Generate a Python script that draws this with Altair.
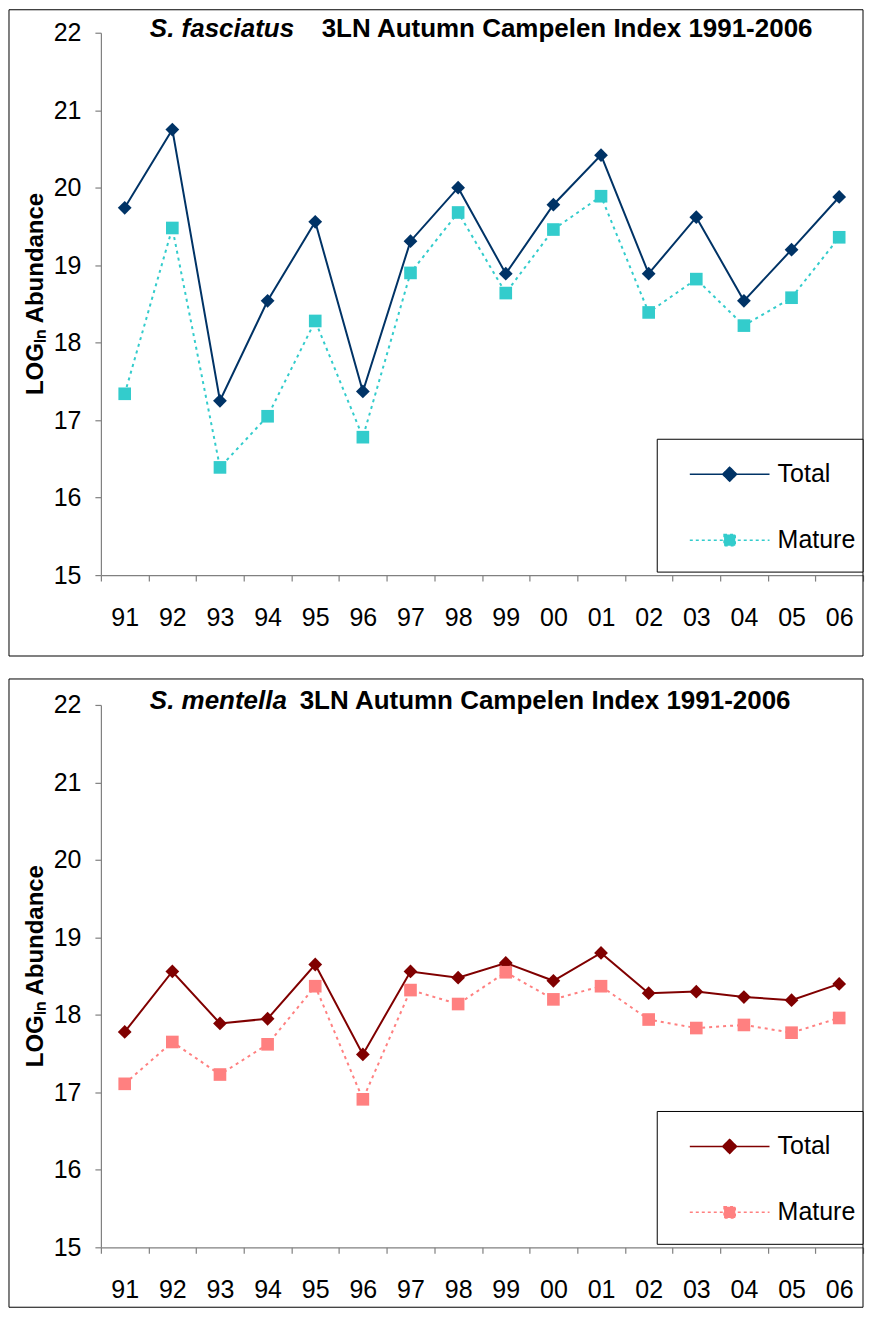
import altair as alt
import pandas as pd

# ---------------- data ----------------
years = ["91", "92", "93", "94", "95", "96", "97", "98",
         "99", "00", "01", "02", "03", "04", "05", "06"]
fas_total = [19.74, 20.75, 17.25, 18.54, 19.56, 17.37, 19.31, 20.00,
             18.89, 19.78, 20.42, 18.89, 19.62, 18.54, 19.20, 19.88]
fas_mature = [17.34, 19.48, 16.39, 17.05, 18.28, 16.78, 18.90, 19.68,
              18.64, 19.46, 19.89, 18.39, 18.82, 18.22, 18.58, 19.36]
men_total = [17.78, 18.56, 17.89, 17.95, 18.65, 17.49, 18.56, 18.48,
             18.67, 18.44, 18.80, 18.28, 18.30, 18.23, 18.19, 18.40]
men_mature = [17.11, 17.65, 17.23, 17.62, 18.37, 16.91, 18.32, 18.14,
              18.55, 18.20, 18.37, 17.94, 17.83, 17.87, 17.77, 17.96]
series_names = ["Total", "Mature"]
y_ticks = [15, 16, 17, 18, 19, 20, 21, 22]
y_title = "LOGₗₙ Abundance"

F = "Liberation Sans"
W, H = 763, 543

# legend symbols: line segment + marker
SYM_TOTAL = "M-5.7,0H5.7M0,-1L1,0L0,1L-1,0Z"
SYM_MATURE = "M-5.7,0H5.7M-0.8,-0.8H0.8V0.8H-0.8Z"


def panel(total, mature, c_total, c_mature, italic_txt, rest_txt, rest_x, fy, fy2):
    df = pd.DataFrame({"year": years, "Total": total, "Mature": mature})
    one = alt.Data(values=[{"k": 1}])

    x = alt.X("year:N", sort=years,
              scale=alt.Scale(type="band", domain=years, paddingInner=0, paddingOuter=0),
              axis=alt.Axis(title=None, tickBand="extent", labelAngle=0, labelFontSize=25,
                            labelPadding=24, tickSize=6, labelFont=F, labelColor="black"))

    def y(field):
        return alt.Y(f"{field}:Q",
                     scale=alt.Scale(domain=[15, 22], nice=False, zero=False),
                     axis=alt.Axis(values=y_ticks, title=y_title, titleFontSize=24,
                                   titleFontWeight="bold", titleFont=F, titleX=-65, titleY=261,
                                   titleAngle=270, titleBaseline="middle", titleAlign="center",
                                   labelFontSize=25, labelPadding=14, tickSize=6, labelFont=F,
                                   labelColor="black", grid=False))

    frame = alt.Chart(one).mark_rect(fillOpacity=0, stroke="black", strokeWidth=1).encode(
        x=alt.value(-92), x2=alt.value(763), y=alt.value(fy), y2=alt.value(fy2))
    legend_box = alt.Chart(one).mark_rect(fill="white", stroke="black", strokeWidth=1).encode(
        x=alt.value(557), x2=alt.value(763), y=alt.value(407), y2=alt.value(540))

    base = alt.Chart(df)
    l_total = base.mark_line(color=c_total, strokeWidth=2).encode(x=x, y=y("Total"))
    p_total = base.mark_point(shape="diamond", filled=True, size=190, color=c_total,
                              opacity=1).encode(x=x, y=y("Total"))
    l_mat = base.mark_line(color=c_mature, strokeWidth=2, strokeDash=[3, 4]).encode(
        x=x, y=y("Mature"))
    p_mat = base.mark_point(shape="square", filled=True, size=160, color=c_mature,
                            opacity=1).encode(x=x, y=y("Mature"))

    leg = alt.Legend(title=None, orient="none", legendX=571, legendY=429.5, padding=0,
                     symbolOffset=46, labelOffset=35.5, rowPadding=40, symbolSize=196,
                     symbolStrokeWidth=1.5, labelFontSize=25, labelFont=F,
                     labelColor="black", labelBaseline="middle")
    dom = series_names
    legend_layer = alt.Chart(alt.Data(values=[])).mark_point(
        filled=True, opacity=1, size=196).encode(
        fill=alt.Fill("series:N", scale=alt.Scale(domain=dom, range=[c_total, c_mature]), legend=leg),
        stroke=alt.Stroke("series:N", scale=alt.Scale(domain=dom, range=[c_total, c_mature]), legend=leg),
        shape=alt.Shape("series:N", scale=alt.Scale(domain=dom, range=[SYM_TOTAL, SYM_MATURE]), legend=leg),
        strokeDash=alt.StrokeDash("series:N", scale=alt.Scale(domain=dom, range=[[1, 0], [3, 3]]), legend=leg),
    )

    t1 = alt.Chart(one).mark_text(align="left", baseline="middle", fontSize=26, fontWeight="bold",
                                  fontStyle="italic", font=F, color="black").encode(
        x=alt.value(49), y=alt.value(-4), text=alt.value(italic_txt))
    t2 = alt.Chart(one).mark_text(align="left", baseline="middle", fontSize=26, fontWeight="bold",
                                  font=F, color="black").encode(
        x=alt.value(rest_x), y=alt.value(-4), text=alt.value(rest_txt))

    return alt.layer(frame, legend_box, l_total, l_mat, p_total, p_mat, legend_layer,
                     t1, t2).properties(width=W, height=H)


top = panel(fas_total, fas_mature, "#003366", "#33CCCC",
            "S. fasciatus", "3LN Autumn Campelen Index 1991-2006", 221, -23, 624)
bottom = panel(men_total, men_mature, "#800000", "#FF8080",
               "S. mentella", "3LN Autumn Campelen Index 1991-2006", 199, -26, 603)

chart = alt.vconcat(top, bottom, spacing=21).resolve_scale(
    fill="independent", stroke="independent", shape="independent", strokeDash="independent"
).properties(padding=0).configure_view(stroke="transparent").configure_axis(
    domainColor="#808080", tickColor="#808080", domainWidth=1.2, tickWidth=1.2
)

chart.save("out.html", embed_options={"renderer": "svg", "actions": False})
